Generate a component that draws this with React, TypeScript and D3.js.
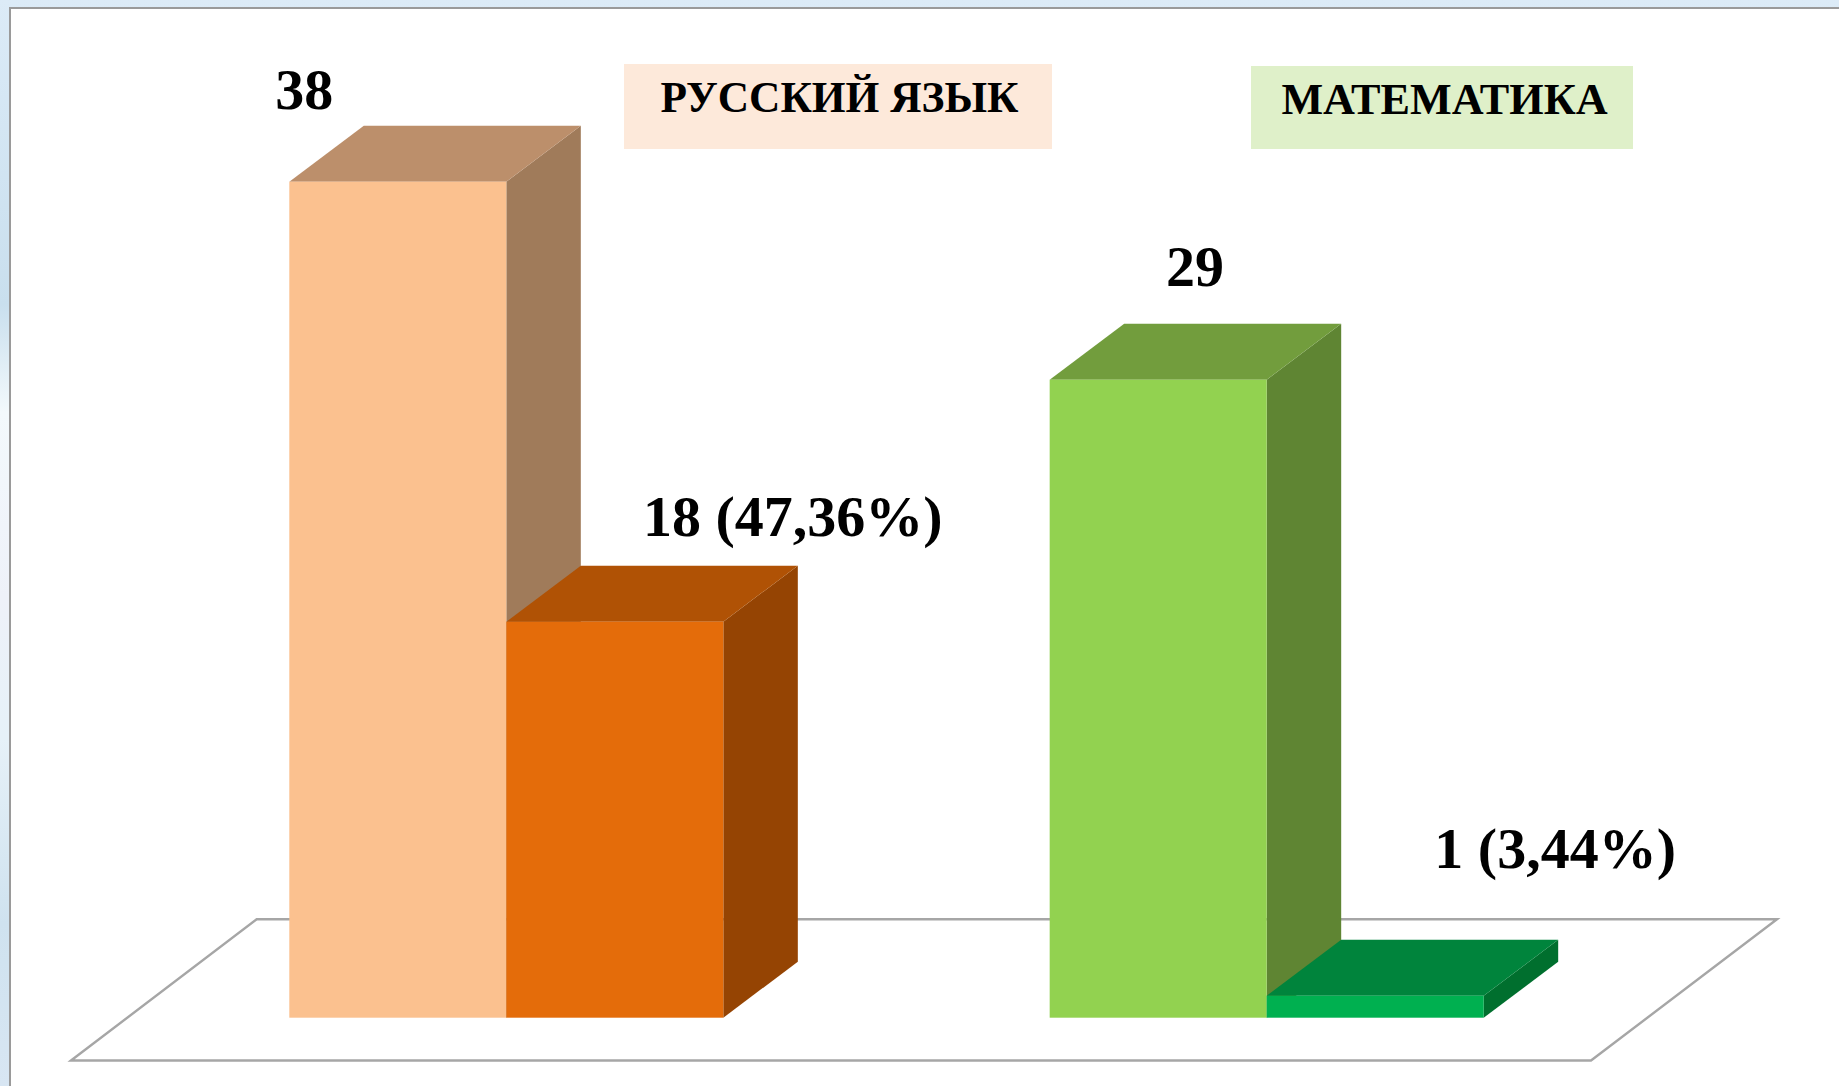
import { useEffect, useRef } from "react";
import * as d3 from "d3";

const categories = ["РУССКИЙ ЯЗЫК", "МАТЕМАТИКА"];
const seriesNames = ["total", "passed"];
const totalValues = [38, 29];
const passedValues = [18, 1];
const totalLabels = ["38", "29"];
const passedLabels = ["18 (47,36%)", "1 (3,44%)"];

// front, top, side
const barColors = [
  ["#FBC18F", "#BC8F6B", "#A07B5A"],
  ["#E46C0A", "#B05205", "#954403"],
  ["#92D250", "#729D3D", "#5F8533"],
  ["#00B050", "#00843C", "#006F2E"],
];
const legendColors = ["#FDE9DA", "#DFF0C9"];

function App() {
  const ref = useRef<SVGSVGElement>(null);

  useEffect(() => {
    const svg = d3.select(ref.current);
    svg.selectAll("*").remove();

    const width = 1839;
    const height = 1086;
    const baseY = 1017.7;
    const depth = { x: 74.5, y: 56 };

    const x0 = d3
      .scaleBand()
      .domain(categories)
      .range([289.3, 1483.7])
      .paddingInner(0.4292);
    const x1 = d3
      .scaleBand()
      .domain(seriesNames)
      .range([0, x0.bandwidth()]);
    const y = d3.scaleLinear().domain([0, 38]).range([baseY, 181.7]);

    // page background behind the white panel
    const defs = svg.append("defs");
    const bg = defs
      .append("linearGradient")
      .attr("id", "bg")
      .attr("x1", 0)
      .attr("y1", 0)
      .attr("x2", 0)
      .attr("y2", 1);
    [
      [0, "#DCEBF7"],
      [0.28, "#C9DFEE"],
      [0.38, "#F3F9FC"],
      [0.55, "#EEF1F9"],
      [0.68, "#E6F1F8"],
      [0.85, "#CFE2EF"],
      [1, "#D8E6F3"],
    ].forEach(([o, c]) => bg.append("stop").attr("offset", o).attr("stop-color", c));

    svg.append("rect").attr("width", width).attr("height", height).attr("fill", "url(#bg)");
    svg
      .append("rect")
      .attr("x", 10)
      .attr("y", 8)
      .attr("width", width)
      .attr("height", height)
      .attr("fill", "#ffffff")
      .attr("stroke", "#9a9a9a")
      .attr("stroke-width", 2);

    // floor
    const floor = d3.line();
    svg
      .append("path")
      .attr(
        "d",
        floor([
          [71, 1060.5],
          [256.7, 919.3],
          [1777, 919.3],
          [1591, 1060.5],
        ]) + "Z"
      )
      .attr("fill", "#ffffff")
      .attr("stroke", "#a6a6a6")
      .attr("stroke-width", 2.4);

    const bars = categories.flatMap((cat, i) => [
      { cat, series: seriesNames[0], value: totalValues[i], label: totalLabels[i] },
      { cat, series: seriesNames[1], value: passedValues[i], label: passedLabels[i] },
    ]);
    // label position relative to the bar's front top-left corner
    const labelDx = [15, 286.5, 145.4, 288.5];
    const labelDy = [-73, -86, -94, -128];

    const g = svg.selectAll("g.bar").data(bars).enter().append("g").attr("class", "bar");

    g.each(function (d, i) {
      const node = d3.select(this);
      const left = x0(d.cat)! + x1(d.series)!;
      const right = left + x1.bandwidth();
      const top = y(d.value);
      const poly = d3.line();
      node
        .append("path")
        .attr(
          "d",
          poly([
            [right, top],
            [right + depth.x, top - depth.y],
            [right + depth.x, baseY - depth.y],
            [right, baseY],
          ]) + "Z"
        )
        .attr("fill", barColors[i][2]);
      node
        .append("path")
        .attr(
          "d",
          poly([
            [left, top],
            [left + depth.x, top - depth.y],
            [right + depth.x, top - depth.y],
            [right, top],
          ]) + "Z"
        )
        .attr("fill", barColors[i][1]);
      node
        .append("rect")
        .attr("x", left)
        .attr("y", top)
        .attr("width", x1.bandwidth())
        .attr("height", baseY - top)
        .attr("fill", barColors[i][0]);
    });

    svg
      .selectAll("text.value")
      .data(bars)
      .enter()
      .append("text")
      .attr("class", "value")
      .attr("x", (d, i) => x0(d.cat)! + x1(d.series)! + labelDx[i])
      .attr("y", (d, i) => y(d.value) + labelDy[i])
      .attr("text-anchor", "middle")
      .attr("font-family", "'Liberation Serif', serif")
      .attr("font-weight", "bold")
      .attr("font-size", 58)
      .attr("fill", "#000000")
      .text((d) => d.label);

    // subject captions
    const legendBox = [
      { x: 624, y: 64, w: 428, h: 85, baseline: 111.7, size: 43.4, shift: 1.5 },
      { x: 1251, y: 66, w: 382, h: 83, baseline: 114, size: 44.2, shift: 2.5 },
    ];
    categories.forEach((cat, i) => {
      const b = legendBox[i];
      svg
        .append("rect")
        .attr("x", b.x)
        .attr("y", b.y)
        .attr("width", b.w)
        .attr("height", b.h)
        .attr("fill", legendColors[i]);
      svg
        .append("text")
        .attr("x", b.x + b.w / 2 + b.shift)
        .attr("y", b.baseline)
        .attr("text-anchor", "middle")
        .attr("font-family", "'Liberation Serif', serif")
        .attr("font-weight", "bold")
        .attr("font-size", b.size)
        .attr("fill", "#000000")
        .text(cat);
    });
  }, []);

  return (
    <svg
      ref={ref}
      width={1839}
      height={1086}
      style={{ position: "absolute", left: 0, top: 0, display: "block" }}
    />
  );
}

export default App;
